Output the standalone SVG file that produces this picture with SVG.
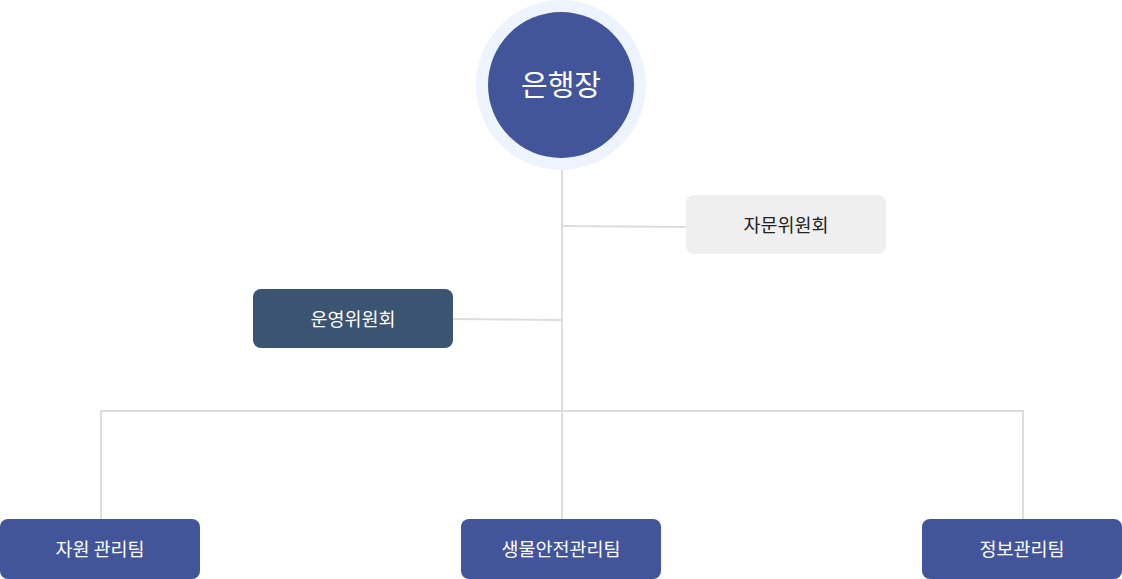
<svg xmlns="http://www.w3.org/2000/svg" width="1122" height="579" viewBox="0 0 1122 579">
<style>
.ln{stroke:#dddddd;stroke-width:2;fill:none}
.t{font-family:"Noto Sans CJK KR","Noto Sans",sans-serif;text-anchor:middle;dominant-baseline:central;font-weight:400}
.bx{fill:#43559a}
.w{fill:#ffffff;font-size:18.5px}
</style>
<rect width="1122" height="579" fill="#ffffff"/>
<g id="connectors">
<line class="ln" x1="562" y1="168" x2="562" y2="519"/>
<line class="ln" x1="562" y1="226" x2="686" y2="227"/>
<line class="ln" x1="453" y1="319" x2="562" y2="320"/>
<polyline class="ln" points="101,519 101,411 1023,411 1023,519"/>
</g>
<g id="ceo">
<circle cx="561" cy="85" r="85" fill="#eef4fd"/>
<circle cx="561" cy="85" r="73" fill="#43559a"/>
<text class="t" x="561" y="83" fill="#ffffff" font-size="29">은행장</text>
</g>
<g id="advisory">
<rect x="686" y="195" width="200" height="59" rx="8" fill="#efefef"/>
<text class="t" x="786" y="224" fill="#222222" font-size="18.5">자문위원회</text>
</g>
<g id="operating">
<rect x="253" y="289" width="200" height="59" rx="8" fill="#3a5471"/>
<text class="t w" x="353" y="318">운영위원회</text>
</g>
<g id="team1">
<rect class="bx" x="0" y="519" width="200" height="60" rx="8"/>
<text class="t w" x="100" y="548">자원 관리팀</text>
</g>
<g id="team2">
<rect class="bx" x="461" y="519" width="200" height="60" rx="8"/>
<text class="t w" x="561" y="548">생물안전관리팀</text>
</g>
<g id="team3">
<rect class="bx" x="922" y="519" width="200" height="60" rx="8"/>
<text class="t w" x="1022" y="548">정보관리팀</text>
</g>
</svg>
